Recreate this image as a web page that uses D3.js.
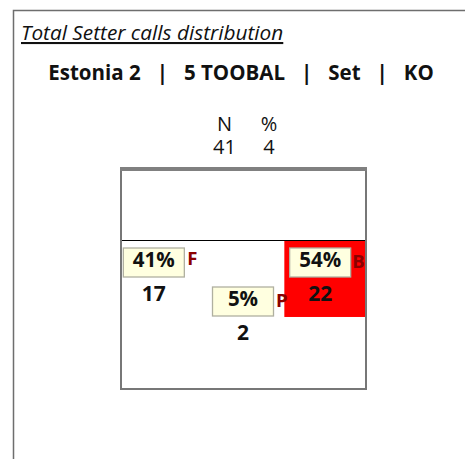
<!DOCTYPE html>
<html>
<head>
<meta charset="utf-8">
<script src="https://cdn.jsdelivr.net/npm/d3@7"></script>
<style>
  html, body { margin: 0; padding: 0; background: #fff; }
  svg { display: block; font-family: "Open Sans", "Noto Sans", sans-serif; }
</style>
</head>
<body>
<svg id="chart" width="465" height="459"></svg>
<script>
// Setter call distribution by attack zone
const zones    = ["F", "P", "B"];
const percents = [41, 5, 54];
const counts   = [17, 2, 22];
const headerLabels = ["N", "%"];
const headerValues = [41, 4];
const titleParts = ["Estonia 2", "5 TOOBAL", "Set", "KO"];
const subtitle = "Total Setter calls distribution";

const svg = d3.select("#chart");

// outer panel frame (left and top edges)
svg.append("path")
  .attr("d", "M13.5,459 V10.5 H465")
  .attr("fill", "none").attr("stroke", "#6e6e6e").attr("stroke-width", 1.5);

svg.append("text")
  .attr("x", 21).attr("y", 40)
  .attr("font-size", 20.8).attr("font-style", "italic")
  .attr("text-decoration", "underline")
  .attr("fill", "#111")
  .text(subtitle);

svg.append("text")
  .attr("x", 241).attr("y", 80)
  .attr("text-anchor", "middle")
  .attr("font-size", 20.5).attr("font-weight", "bold")
  .attr("fill", "#111")
  .style("white-space", "pre")
  .text(titleParts.join("   |   "));

// header columns: label over value, one text block per column
const hx = d3.scalePoint().domain(headerLabels).range([224.5, 269]);
headerLabels.forEach((h, i) => {
  const t = svg.append("text")
    .attr("text-anchor", "middle").attr("font-size", 20).attr("fill", "#111");
  t.append("tspan").attr("x", hx(h)).attr("y", 131).text(h);
  t.append("tspan").attr("x", hx(h)).attr("y", 154).text(headerValues[i]);
});

// court
const court = { x0: 121, x1: 366, top: 168, net: 240.5, bottom: 389 };
const x = d3.scaleBand().domain(zones).range([court.x0, court.x1]);
// depth from the net, 0 = net, 1 = back line
const y = d3.scaleLinear().domain([0, 1]).range([court.net, court.bottom]);
const zoneDepth = 0.515;

const maxPct = d3.max(percents);
const g = svg.append("g");

// highlighted zone (largest share)
g.selectAll("rect.zone")
  .data(zones.map((z, i) => ({ z, p: percents[i], c: counts[i] })))
  .join("rect")
  .attr("class", "zone")
  .attr("x", d => x(d.z)).attr("y", y(0))
  .attr("width", x.bandwidth()).attr("height", y(zoneDepth) - y(0))
  .attr("fill", d => d.p === maxPct ? "#ff0000" : "none");

// net line
g.append("line")
  .attr("x1", court.x0).attr("x2", court.x1)
  .attr("y1", court.net).attr("y2", court.net)
  .attr("stroke", "#000").attr("stroke-width", 1.2);

// court outline
g.append("rect")
  .attr("x", court.x0).attr("y", court.top)
  .attr("width", court.x1 - court.x0).attr("height", court.bottom - court.top)
  .attr("fill", "none").attr("stroke", "#777").attr("stroke-width", 2);
g.append("line")
  .attr("x1", court.x0 - 1).attr("x2", court.x1 + 1)
  .attr("y1", court.top + 1).attr("y2", court.top + 1)
  .attr("stroke", "#808080").attr("stroke-width", 4);

// labels: placement of each zone's tag relative to its band centre
const tagOffset = {
  F: { dx: -8,   dy: 0,  ldx: 3,   ldy: 17 },
  P: { dx: -0.5, dy: 39, ldx: 2.5, ldy: 20 },
  B: { dx: -5,   dy: 0,  ldx: 1.5, ldy: 20 }
};
const boxW = 61, boxH = 29;

zones.forEach((z, i) => {
  const o = tagOffset[z];
  const cx = x(z) + x.bandwidth() / 2 + o.dx;
  const top = 248 + o.dy;
  g.append("rect")
    .attr("x", cx - boxW / 2).attr("y", top)
    .attr("width", boxW).attr("height", boxH)
    .attr("fill", "#ffffe0").attr("stroke", "#b0b0a0").attr("stroke-width", 1.3);
  g.append("text")
    .attr("x", cx).attr("y", top + 19)
    .attr("text-anchor", "middle").attr("font-size", 20.5).attr("font-weight", "bold")
    .attr("fill", "#111").text(percents[i] + "%");
  g.append("text")
    .attr("x", cx + boxW / 2 + o.ldx).attr("y", top + o.ldy)
    .attr("font-size", 18.5).attr("font-weight", "bold")
    .attr("fill", "#8b0000").text(z);
  g.append("text")
    .attr("x", cx).attr("y", top + 53)
    .attr("text-anchor", "middle").attr("font-size", 21).attr("font-weight", "bold")
    .attr("fill", "#111").text(counts[i]);
});
</script>
</body>
</html>
